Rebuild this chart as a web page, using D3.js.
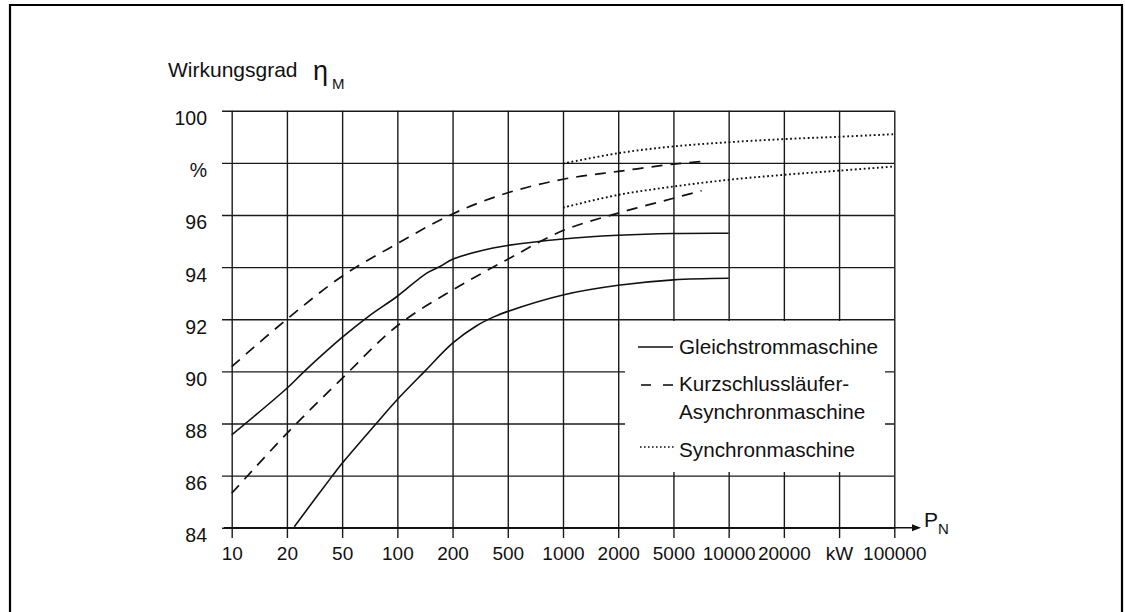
<!DOCTYPE html>
<html>
<head>
<meta charset="utf-8">
<script src="https://cdn.jsdelivr.net/npm/d3@7"></script>
<style>
  body { margin: 0; background: #fff; }
  svg text { font-family: "Liberation Sans", Arial, Helvetica, sans-serif; fill: #111; }
</style>
</head>
<body>
<div id="chart"></div>
<script>
// x axis: power in kW, the grid is 1-2-5 steps, equally spaced
var xTicks = [10, 20, 50, 100, 200, 500, 1000, 2000, 5000, 10000, 20000, 50000, 100000];
var xTickLabels = ["10", "20", "50", "100", "200", "500", "1000", "2000", "5000", "10000", "20000", "kW", "100000"];
var yTicks = [84, 86, 88, 90, 92, 94, 96, 98, 100];
var yTickLabels = ["84", "86", "88", "90", "92", "94", "96", "%", "100"];

// efficiency curves [kW, %]
var gleichOben = [[10, 87.56], [20, 89.35], [26.7, 90.0], [50, 91.3], [69.4, 92.1], [100, 92.88], [144.5, 93.77],
  [170.8, 94.02], [200, 94.3], [315.6, 94.62], [500, 94.83], [1000, 95.08], [2000, 95.22], [5000, 95.29], [10000, 95.3]];
var gleichUnten = [[22.6, 84.04], [42.1, 85.96], [50, 86.47], [75.5, 87.94], [100, 88.92], [141, 90.0], [200, 91.08],
  [298, 91.75], [393, 92.08], [500, 92.3], [1000, 92.93], [2000, 93.3], [5000, 93.51], [10000, 93.57]];
var kurzOben = [[10, 90.18], [20, 92.0], [50, 93.65], [100, 94.9], [200, 96.04], [500, 96.85],
  [1000, 97.37], [2000, 97.67], [5000, 97.95], [7125, 98.05]];
var kurzUnten = [[10, 85.32], [20, 87.62], [50, 89.73], [100, 91.75], [200, 93.12], [500, 94.3],
  [1000, 95.4], [2000, 96.07], [5000, 96.64], [7125, 96.93]];
var syncOben = [[1000, 97.97], [2000, 98.37], [5000, 98.63], [10000, 98.79], [20000, 98.91], [50000, 99.0], [100000, 99.1]];
var syncUnten = [[1000, 96.28], [2000, 96.77], [5000, 97.09], [10000, 97.35], [20000, 97.54], [50000, 97.7], [100000, 97.86]];

var legendLabels = [["Gleichstrommaschine"], ["Kurzschlussläufer-", "Asynchronmaschine"], ["Synchronmaschine"]];

var svgwidth = 1125, svgheight = 612;
var plotL = 231.7, plotR = 894.3, plotT = 110.7, plotB = 527.7;
var step = (plotR - plotL) / (xTicks.length - 1);

var svg = d3.select("#chart").append("svg")
  .attr("width", svgwidth)
  .attr("height", svgheight);

// frame of the scan
svg.append("path")
  .attr("d", "M10,612 L10,5 L1122,5 L1122,612")
  .attr("fill", "none").attr("stroke", "#000").attr("stroke-width", 2.2);

var x = d3.scaleLog()
  .domain(xTicks)
  .range(xTicks.map(function(d, i) { return plotL + i * step; }));

var y = d3.scaleLinear()
  .domain([84, 100])
  .range([plotB, plotT]);

// horizontal grid + y labels
var yAxis = d3.axisLeft(y)
  .tickValues(yTicks)
  .tickSize(plotR - 222)
  .tickPadding(15)
  .tickFormat(function(d, i) { return yTickLabels[i]; });

var gy = svg.append("g")
  .attr("transform", "translate(" + plotR + ",0)")
  .call(yAxis);
gy.select(".domain").remove();
gy.selectAll("line").attr("stroke", "#1a1a1a").attr("stroke-width", 1.4);
gy.selectAll("text").attr("font-size", 19.5).attr("dy", "0.72em")
  .attr("font-family", "Liberation Sans, Arial, sans-serif").attr("fill", "#111");

// vertical grid + x labels
var xAxis = d3.axisBottom(x)
  .tickValues(xTicks)
  .tickSize(538 - plotT)
  .tickPadding(9)
  .tickFormat(function(d, i) { return xTickLabels[i]; });

var gx = svg.append("g")
  .attr("transform", "translate(0," + plotT + ")")
  .call(xAxis);
gx.select(".domain").remove();
gx.selectAll("line").attr("stroke", "#1a1a1a").attr("stroke-width", 1.4);
gx.selectAll("text").attr("font-size", 19)
  .attr("font-family", "Liberation Sans, Arial, sans-serif").attr("fill", "#111");

// x axis arrow
svg.append("line")
  .attr("x1", 224).attr("x2", 914)
  .attr("y1", y(84)).attr("y2", y(84))
  .attr("stroke", "#111").attr("stroke-width", 1.5);
svg.append("path")
  .attr("d", "M912," + (y(84) - 3.5) + " L921," + y(84) + " L912," + (y(84) + 3.5) + "Z")
  .attr("fill", "#111");

var pn = svg.append("text").attr("x", 924).attr("y", 527).attr("font-size", 21);
pn.append("tspan").text("P");
pn.append("tspan").attr("dy", 7).attr("font-size", 15).text("N");

// y title
svg.append("text").attr("x", 168).attr("y", 77).attr("font-size", 21).text("Wirkungsgrad");
svg.append("text").attr("x", 313).attr("y", 80).attr("font-size", 27).text("η");
svg.append("text").attr("x", 332).attr("y", 89).attr("font-size", 15).text("M");

// legend area covers the grid
svg.append("rect")
  .attr("x", 625).attr("y", 321)
  .attr("width", 260).attr("height", 151)
  .attr("fill", "#fff");

var line = d3.line()
  .x(function(d) { return x(d[0]); })
  .y(function(d) { return y(d[1]); })
  .curve(d3.curveCatmullRom.alpha(0.5));

var series = [
  { data: gleichOben, dash: null, w: 1.6 },
  { data: gleichUnten, dash: null, w: 1.6 },
  { data: kurzOben, dash: "11,8", w: 1.7 },
  { data: kurzUnten, dash: "11,8", w: 1.7 },
  { data: syncOben, dash: "1.8,2.6", w: 1.9 },
  { data: syncUnten, dash: "1.8,2.6", w: 1.9 }
];

svg.selectAll("path.curve")
  .data(series)
  .enter()
  .append("path")
  .attr("class", "curve")
  .attr("d", function(d) { return line(d.data); })
  .attr("fill", "none")
  .attr("stroke", "#111")
  .attr("stroke-width", function(d) { return d.w; })
  .attr("stroke-dasharray", function(d) { return d.dash; });

// legend
var legY = [347, 385, 447];
var legTextY = [354, 391, 457];

svg.append("line").attr("x1", 638).attr("x2", 673).attr("y1", legY[0]).attr("y2", legY[0])
  .attr("stroke", "#111").attr("stroke-width", 1.5);
svg.append("line").attr("x1", 641).attr("x2", 651).attr("y1", legY[1]).attr("y2", legY[1])
  .attr("stroke", "#111").attr("stroke-width", 1.6);
svg.append("line").attr("x1", 663).attr("x2", 673).attr("y1", legY[1]).attr("y2", legY[1])
  .attr("stroke", "#111").attr("stroke-width", 1.6);
svg.append("line").attr("x1", 640).attr("x2", 674).attr("y1", legY[2]).attr("y2", legY[2])
  .attr("stroke", "#111").attr("stroke-width", 1.6).attr("stroke-dasharray", "1.6,2.4");

legendLabels.forEach(function(lines, i) {
  var t = svg.append("text").attr("x", 679).attr("y", legTextY[i]).attr("font-size", 20.7);
  lines.forEach(function(s, j) {
    t.append("tspan").attr("x", 679).attr("dy", j === 0 ? 0 : 27.5).text(s);
  });
});
</script>
</body>
</html>
